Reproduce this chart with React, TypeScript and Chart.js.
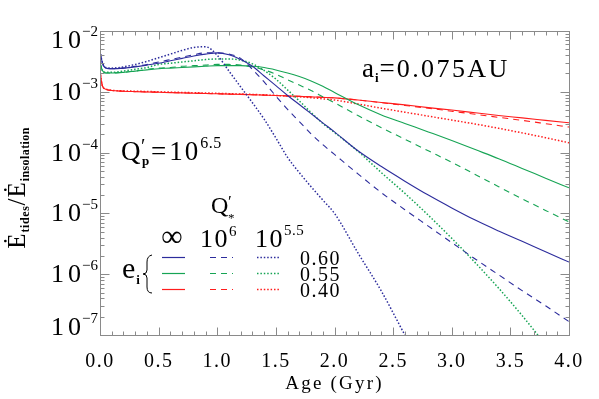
import React, { useEffect, useRef } from "react";
import { Chart, registerables } from "chart.js";
Chart.register(...registerables);

// ---- data (Age in Gyr, ratio of tidal heating to insolation) ----
const AGES = [0, 0.02, 0.05, 0.1, 0.2, 0.3, 0.4, 0.5, 0.6, 0.7, 0.8, 0.9, 1.0, 1.1, 1.2, 1.3, 1.4, 1.5, 1.6, 1.7, 1.8, 1.9, 2.0, 2.2, 2.4, 2.6, 2.8, 3.0, 3.2, 3.4, 3.6, 3.8, 4.0];

// e_i = 0.60
const BLUE_INF = [4.68e-3, 3.02e-3, 2.45e-3, 2.40e-3, 2.45e-3, 2.57e-3, 2.75e-3, 2.95e-3, 3.24e-3, 3.55e-3, 3.89e-3, 4.17e-3, 4.37e-3, 4.07e-3, 3.39e-3, 2.63e-3, 1.82e-3, 1.26e-3, 8.71e-4, 6.17e-4, 4.37e-4, 3.09e-4, 2.19e-4, 1.07e-4, 5.89e-5, 3.39e-5, 2.00e-5, 1.23e-5, 7.76e-6, 5.13e-6, 3.47e-6, 2.34e-6, 1.58e-6];
const BLUE_1E6 = [4.68e-3, 3.02e-3, 2.45e-3, 2.40e-3, 2.45e-3, 2.63e-3, 2.82e-3, 3.09e-3, 3.39e-3, 3.72e-3, 4.07e-3, 4.37e-3, 4.37e-3, 4.17e-3, 3.55e-3, 2.34e-3, 1.45e-3, 8.51e-4, 5.13e-4, 3.24e-4, 2.04e-4, 1.35e-4, 9.33e-5, 4.47e-5, 2.19e-5, 1.15e-5, 6.17e-6, 3.31e-6, 1.78e-6, 9.77e-7, 5.37e-7, 3.02e-7, 1.66e-7];
const BLUE_1E55 = [4.68e-3, 3.02e-3, 2.51e-3, 2.45e-3, 2.57e-3, 2.82e-3, 3.16e-3, 3.63e-3, 4.17e-3, 4.79e-3, 5.37e-3, 5.50e-3, 3.98e-3, 2.19e-3, 1.20e-3, 6.61e-4, 3.55e-4, 1.74e-4, 8.32e-5, 4.68e-5, 2.75e-5, 1.66e-5, 1.00e-5, 2.24e-6, 5.25e-7, 1.00e-7, 2.00e-8, null, null, null, null, null, null];

// e_i = 0.55
const GREEN_INF = [3.02e-3, 2.24e-3, 2.04e-3, 2.04e-3, 2.09e-3, 2.19e-3, 2.29e-3, 2.40e-3, 2.45e-3, 2.51e-3, 2.57e-3, 2.63e-3, 2.69e-3, 2.69e-3, 2.69e-3, 2.63e-3, 2.51e-3, 2.29e-3, 2.04e-3, 1.78e-3, 1.51e-3, 1.23e-3, 9.77e-4, 6.17e-4, 4.17e-4, 3.02e-4, 2.19e-4, 1.58e-4, 1.12e-4, 7.94e-5, 5.50e-5, 3.80e-5, 2.63e-5];
const GREEN_1E6 = [3.02e-3, 2.24e-3, 2.04e-3, 2.04e-3, 2.09e-3, 2.19e-3, 2.34e-3, 2.45e-3, 2.51e-3, 2.63e-3, 2.69e-3, 2.75e-3, 2.82e-3, 2.82e-3, 2.75e-3, 2.57e-3, 2.29e-3, 1.95e-3, 1.58e-3, 1.29e-3, 1.05e-3, 8.32e-4, 6.61e-4, 4.07e-4, 2.57e-4, 1.66e-4, 1.07e-4, 6.92e-5, 4.37e-5, 2.75e-5, 1.74e-5, 1.12e-5, 7.24e-6];
const GREEN_1E55 = [3.02e-3, 2.24e-3, 2.09e-3, 2.09e-3, 2.19e-3, 2.34e-3, 2.51e-3, 2.82e-3, 2.95e-3, 3.09e-3, 3.24e-3, 3.39e-3, 3.47e-3, 3.47e-3, 3.31e-3, 2.88e-3, 2.24e-3, 1.62e-3, 1.07e-3, 7.08e-4, 4.57e-4, 3.02e-4, 2.14e-4, 1.05e-4, 4.68e-5, 2.14e-5, 9.33e-6, 3.89e-6, 1.55e-6, 5.89e-7, 2.09e-7, 6.92e-8, null];

// e_i = 0.40
const RED_INF = [2.19e-3, 1.26e-3, 1.10e-3, 1.05e-3, 1.023e-3, 1.007e-3, 9.93e-4, 9.82e-4, 9.70e-4, 9.59e-4, 9.48e-4, 9.38e-4, 9.27e-4, 9.16e-4, 9.06e-4, 8.93e-4, 8.81e-4, 8.69e-4, 8.55e-4, 8.41e-4, 8.26e-4, 8.11e-4, 7.94e-4, 7.33e-4, 6.68e-4, 6.10e-4, 5.50e-4, 5.01e-4, 4.52e-4, 4.07e-4, 3.72e-4, 3.39e-4, 3.09e-4];
const RED_1E6 = [2.19e-3, 1.26e-3, 1.10e-3, 1.05e-3, 1.023e-3, 1.007e-3, 9.93e-4, 9.82e-4, 9.70e-4, 9.59e-4, 9.48e-4, 9.38e-4, 9.27e-4, 9.16e-4, 9.06e-4, 8.93e-4, 8.81e-4, 8.69e-4, 8.55e-4, 8.41e-4, 8.26e-4, 8.11e-4, 7.94e-4, 7.33e-4, 6.61e-4, 5.96e-4, 5.37e-4, 4.79e-4, 4.27e-4, 3.80e-4, 3.39e-4, 2.99e-4, 2.63e-4];
const RED_1E55 = [2.19e-3, 1.26e-3, 1.11e-3, 1.06e-3, 1.035e-3, 1.023e-3, 1.012e-3, 1.00e-3, 9.89e-4, 9.77e-4, 9.66e-4, 9.55e-4, 9.44e-4, 9.33e-4, 9.20e-4, 9.06e-4, 8.89e-4, 8.71e-4, 8.51e-4, 8.28e-4, 8.00e-4, 7.67e-4, 7.33e-4, 6.31e-4, 5.37e-4, 4.62e-4, 3.98e-4, 3.43e-4, 2.95e-4, 2.51e-4, 2.11e-4, 1.76e-4, 1.45e-4];

// ---- axes / labels ----
const X_TICK_VALUES = [0, 0.5, 1, 1.5, 2, 2.5, 3, 3.5, 4];
const X_TICK_LABELS = ["0.0", "0.5", "1.0", "1.5", "2.0", "2.5", "3.0", "3.5", "4.0"];
const Y_DECADES = [-2, -3, -4, -5, -6, -7];
const Y_EXP_LABELS = ["\u22122", "\u22123", "\u22124", "\u22125", "\u22126", "\u22127"];
const X_TITLE = "Age (Gyr)";
const ECC_LABELS = ["0.60", "0.55", "0.40"];

const BLUE = "#2c2c9c";
const GREEN = "#16a454";
const RED = "#ff1c1c";
const AXIS = "#8a8a8a";
const FONT = '"Liberation Serif", serif';

const SOLID: number[] = [];
const DASHED = [6, 5];
const DOTTED = [1.5, 1.9];

const SERIES = [
  { label: "0.60 inf", data: BLUE_INF, color: BLUE, dash: SOLID },
  { label: "0.60 1e6", data: BLUE_1E6, color: BLUE, dash: DASHED },
  { label: "0.60 1e5.5", data: BLUE_1E55, color: BLUE, dash: DOTTED },
  { label: "0.55 inf", data: GREEN_INF, color: GREEN, dash: SOLID },
  { label: "0.55 1e6", data: GREEN_1E6, color: GREEN, dash: DASHED },
  { label: "0.55 1e5.5", data: GREEN_1E55, color: GREEN, dash: DOTTED },
  { label: "0.40 inf", data: RED_INF, color: RED, dash: SOLID },
  { label: "0.40 1e6", data: RED_1E6, color: RED, dash: DASHED },
  { label: "0.40 1e5.5", data: RED_1E55, color: RED, dash: DOTTED },
];

type Part = { t: string; size: number; dy?: number; dx?: number; bold?: boolean; ls?: number };

function setFont(ctx: CanvasRenderingContext2D, p: Part) {
  ctx.font = `${p.bold ? "bold " : ""}${p.size}px ${FONT}`;
  (ctx as any).letterSpacing = `${p.ls ?? 0}px`;
}
function partsWidth(ctx: CanvasRenderingContext2D, parts: Part[]) {
  let w = 0;
  for (const p of parts) {
    setFont(ctx, p);
    w += ctx.measureText(p.t).width + (p.dx ?? 0);
  }
  return w;
}
function drawParts(ctx: CanvasRenderingContext2D, x: number, y: number, parts: Part[], align: "left" | "right" | "center" = "left") {
  const w = partsWidth(ctx, parts);
  let cx = align === "left" ? x : align === "right" ? x - w : x - w / 2;
  ctx.textAlign = "left";
  ctx.textBaseline = "alphabetic";
  for (const p of parts) {
    setFont(ctx, p);
    cx += p.dx ?? 0;
    ctx.fillText(p.t, cx, y + (p.dy ?? 0));
    cx += ctx.measureText(p.t).width;
  }
  (ctx as any).letterSpacing = "0px";
}

const decor = {
  id: "decor",
  afterDatasetsDraw(chart: any) {
    const ctx: CanvasRenderingContext2D = chart.ctx;
    const xs = chart.scales.x;
    const ys = chart.scales.y;
    const { left, right, top, bottom } = chart.chartArea;
    ctx.save();
    ctx.strokeStyle = AXIS;
    ctx.lineWidth = 1;
    const seg = (x1: number, y1: number, x2: number, y2: number) => {
      ctx.beginPath();
      ctx.moveTo(x1, y1);
      ctx.lineTo(x2, y2);
      ctx.stroke();
    };
    const L = Math.round(left) + 0.5, R = Math.round(right) + 0.5;
    const T = Math.round(top) + 0.5, B = Math.round(bottom) + 0.5;
    ctx.strokeRect(L, T, R - L, B - T);
    // x ticks (major every 0.5, minor every 0.1)
    for (let i = 0; i <= 40; i++) {
      const px = Math.round(xs.getPixelForValue(i / 10)) + 0.5;
      const len = i % 5 === 0 ? 8 : 4;
      seg(px, B, px, B - len);
      seg(px, T, px, T + len);
    }
    // y ticks (log)
    for (const d of Y_DECADES) {
      const py = Math.round(ys.getPixelForValue(Math.pow(10, d))) + 0.5;
      seg(L, py, L + 9, py);
      seg(R, py, R - 9, py);
    }
    for (let d = -7; d < -2; d++) {
      for (let m = 2; m <= 9; m++) {
        const py = Math.round(ys.getPixelForValue(m * Math.pow(10, d))) + 0.5;
        seg(L, py, L + 4, py);
        seg(R, py, R - 4, py);
      }
    }
    ctx.fillStyle = "#000";
    // x tick labels
    X_TICK_VALUES.forEach((v, i) => {
      drawParts(ctx, xs.getPixelForValue(v), 367, [{ t: X_TICK_LABELS[i], size: 20, ls: 1.5 }], "center");
    });
    drawParts(ctx, (left + right) / 2, 389, [{ t: X_TITLE, size: 19, ls: 2.2 }], "center");
    // y tick labels
    Y_DECADES.forEach((d, i) => {
      let c = ys.getPixelForValue(Math.pow(10, d));
      c = Math.min(Math.max(c, top + 9), bottom - 8);
      drawParts(ctx, 98, c + 8, [
        { t: "10", size: 26, ls: 4 },
        { t: Y_EXP_LABELS[i], size: 15, dy: -12, dx: -3 },
      ], "right");
    });
    // y title (rotated)
    ctx.save();
    ctx.translate(25, 188);
    ctx.rotate(-Math.PI / 2);
    drawParts(ctx, 0, 0, [
      { t: "\u0116", size: 25, ls: 1 },
      { t: "tides", size: 12, bold: true, dy: 4, ls: 0.6 },
      { t: "/", size: 25, ls: 1 },
      { t: "\u0116", size: 25, ls: 1 },
      { t: "insolation", size: 12, bold: true, dy: 4, ls: 0.4 },
    ], "center");
    ctx.restore();

    // annotations
    drawParts(ctx, 362, 77, [
      { t: "a", size: 27 },
      { t: "i", size: 13, bold: true, dy: 5, dx: 1 },
      { t: "=", size: 27, dx: 1 },
      { t: "0.075AU", size: 26, ls: 2.4, dx: 2 },
    ]);
    drawParts(ctx, 121, 160, [{ t: "Q", size: 27 }]);
    drawParts(ctx, 141, 153, [{ t: "\u2032", size: 20 }]);
    drawParts(ctx, 142, 165, [{ t: "p", size: 13, bold: true }]);
    drawParts(ctx, 151, 160, [
      { t: "=", size: 27 },
      { t: "10", size: 27, ls: 2, dx: 3 },
      { t: "6.5", size: 16, dy: -12, ls: 0.5 },
    ]);

    // legend
    drawParts(ctx, 211, 213, [{ t: "Q", size: 24 }]);
    drawParts(ctx, 228, 207, [{ t: "\u2032", size: 17 }]);
    drawParts(ctx, 228, 222, [{ t: "*", size: 13 }]);
    drawParts(ctx, 172, 246, [{ t: "\u221e", size: 30 }], "center");
    drawParts(ctx, 200, 247, [{ t: "10", size: 26, ls: 1.5 }, { t: "6", size: 15, dy: -11 }]);
    drawParts(ctx, 255, 247, [{ t: "10", size: 26, ls: 1.5 }, { t: "5.5", size: 15, dy: -12, ls: 0.5 }]);
    drawParts(ctx, 122, 278, [{ t: "e", size: 30 }, { t: "i", size: 13, bold: true, dy: 6, dx: 1 }]);
    // brace
    ctx.strokeStyle = "#000";
    ctx.lineWidth = 1;
    ctx.beginPath();
    ctx.moveTo(152, 255);
    ctx.quadraticCurveTo(147, 256, 147, 262);
    ctx.lineTo(147, 270);
    ctx.quadraticCurveTo(147, 274, 143, 274);
    ctx.quadraticCurveTo(147, 274, 147, 278);
    ctx.lineTo(147, 287);
    ctx.quadraticCurveTo(147, 293, 152, 293);
    ctx.stroke();
    const rowColors = [BLUE, GREEN, RED];
    const styles = [SOLID, DASHED, DOTTED];
    const colX = [162, 210, 257];
    rowColors.forEach((col, r) => {
      const yy = 257 + r * 16 + 0.5;
      ctx.strokeStyle = col;
      styles.forEach((dash, k) => {
        ctx.lineWidth = dash === DOTTED ? 1.5 : 1.2;
        ctx.setLineDash(dash);
        seg(colX[k], yy, colX[k] + 23, yy);
      });
      ctx.setLineDash([]);
      drawParts(ctx, 300, yy + 7, [{ t: ECC_LABELS[r], size: 20, ls: 1.5 }]);
    });
    ctx.restore();
  },
};

export default function App() {
  const ref = useRef<HTMLCanvasElement | null>(null);
  useEffect(() => {
    if (!ref.current) return;
    const chart = new Chart(ref.current, {
      type: "line",
      data: {
        datasets: SERIES.map((s) => ({
          label: s.label,
          data: AGES.map((a, i) => ({ x: a, y: s.data[i] })),
          borderColor: s.color,
          backgroundColor: s.color,
          borderDash: s.dash,
          borderWidth: s.dash === DOTTED ? 1.5 : 1.1,
          pointRadius: 0,
          fill: false,
          cubicInterpolationMode: "monotone" as const,
          spanGaps: false,
        })),
      },
      options: {
        responsive: false,
        animation: false,
        layout: { padding: { left: 100, right: 30, top: 31, bottom: 64 } },
        scales: {
          x: { type: "linear", min: 0, max: 4, display: false },
          y: { type: "logarithmic", min: 1e-7, max: 1e-2, display: false },
        },
        plugins: { legend: { display: false }, tooltip: { enabled: false } },
      },
      plugins: [decor],
    });
    return () => chart.destroy();
  }, []);
  return (
    <div style={{ position: "fixed", left: 0, top: 0, width: 599, height: 399, background: "#fff" }}>
      <canvas ref={ref} width={599} height={399} style={{ display: "block" }} />
    </div>
  );
}
